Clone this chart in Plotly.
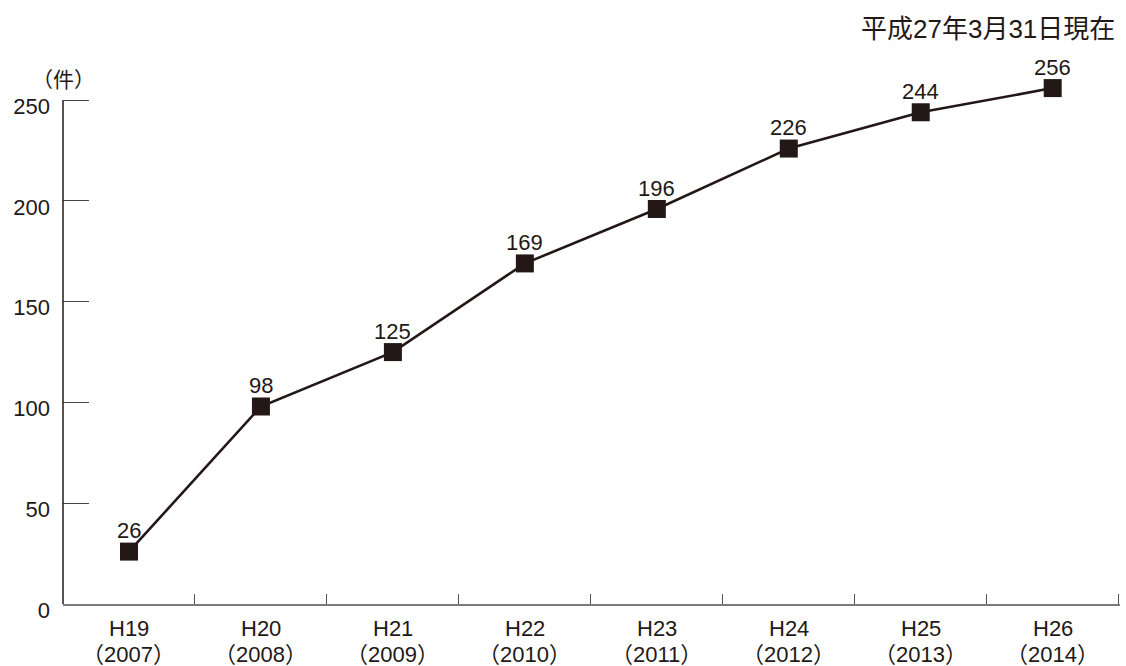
import plotly.graph_objects as go

# 認定件数の推移（累計）
eras = ["H19", "H20", "H21", "H22", "H23", "H24", "H25", "H26"]
years = ["2007", "2008", "2009", "2010", "2011", "2012", "2013", "2014"]
counts = [26, 98, 125, 169, 196, 226, 244, 256]

y_ticks = [0, 50, 100, 150, 200, 250]
unit_label = "（件）"
as_of_label = "平成27年3月31日現在"

INK = "#231815"
FONT = "Liberation Sans, Arial, Noto Sans CJK JP, sans-serif"

pos = list(range(len(eras)))
boundaries = [p + 0.5 for p in pos]

# headroom above the last tick so the final point and its label stay visible
Y_TOP = 262

fig = go.Figure()
fig.add_trace(go.Scatter(
    x=pos,
    y=counts,
    mode="lines+markers",
    line=dict(color=INK, width=2.6),
    marker=dict(symbol="square", size=18, color=INK),
    cliponaxis=False,
    showlegend=False,
    hoverinfo="skip",
))

# invisible trace carrying the category-boundary tick marks
fig.add_trace(go.Scatter(
    x=boundaries, y=[0] * len(boundaries),
    xaxis="x2", mode="markers", marker=dict(opacity=0),
    showlegend=False, hoverinfo="skip",
))

# value labels above each point
value_labels = [
    dict(text=str(v), x=p, y=v, xref="x", yref="y",
         xanchor="center", yanchor="middle", yshift=21, showarrow=False,
         font=dict(size=22, color=INK, family=FONT))
    for p, v in zip(pos, counts)
]

# two-line category labels under the axis (era on top, western year below)
category_labels = []
for p, e, y in zip(pos, eras, years):
    category_labels.append(dict(
        text=e, x=p, y=0, xref="x", yref="paper",
        xanchor="center", yanchor="middle", yshift=-24, showarrow=False,
        font=dict(size=22, color=INK, family=FONT)))
    category_labels.append(dict(
        text=f"（{y}）", x=p, y=0, xref="x", yref="paper",
        xanchor="center", yanchor="middle", yshift=-50, showarrow=False,
        font=dict(size=22, color=INK, family=FONT)))

fig.update_layout(
    width=1126,
    height=666,
    margin=dict(l=63, r=6, t=76, b=62, autoexpand=False),
    paper_bgcolor="white",
    plot_bgcolor="white",
    font=dict(family=FONT, size=22, color=INK),
    xaxis=dict(
        range=[-0.5, 7.51],
        tickmode="array",
        tickvals=pos,
        showticklabels=False,
        ticks="",
        showgrid=False,
        zeroline=False,
        showline=True,
        linecolor="#7a7a7a",
        linewidth=2,
        automargin=False,
    ),
    xaxis2=dict(
        overlaying="x",
        range=[-0.5, 7.51],
        tickmode="array",
        tickvals=boundaries,
        ticks="inside",
        ticklen=10,
        tickwidth=1,
        tickcolor="#555555",
        showticklabels=False,
        showgrid=False,
        zeroline=False,
        showline=False,
        side="bottom",
        anchor="y",
        automargin=False,
    ),
    yaxis=dict(
        range=[0, Y_TOP],
        tickmode="array",
        tickvals=y_ticks,
        ticks="inside",
        ticklen=26,
        tickwidth=1,
        tickcolor="#444444",
        showgrid=False,
        zeroline=False,
        showline=False,
        tickfont=dict(size=22, color=INK, family=FONT),
        ticklabelstandoff=12,
        ticklabelshift=6,
        automargin=False,
    ),
    shapes=[
        # vertical axis line running only up to the highest tick
        dict(type="line", xref="paper", yref="y", x0=0, x1=0,
             y0=y_ticks[0], y1=y_ticks[-1],
             line=dict(color=INK, width=1.5)),
    ],
    annotations=value_labels + category_labels + [
        dict(text=unit_label, xref="paper", yref="paper", x=0.0, y=1.0,
             xanchor="center", yanchor="middle", yshift=-3, showarrow=False,
             font=dict(size=21, color=INK, family=FONT)),
        dict(text=as_of_label, xref="paper", yref="paper", x=0.9975, y=1.0,
             xanchor="right", yanchor="middle", yshift=47, showarrow=False,
             font=dict(size=26, color=INK, family=FONT)),
    ],
)

fig.write_html("out.html")
